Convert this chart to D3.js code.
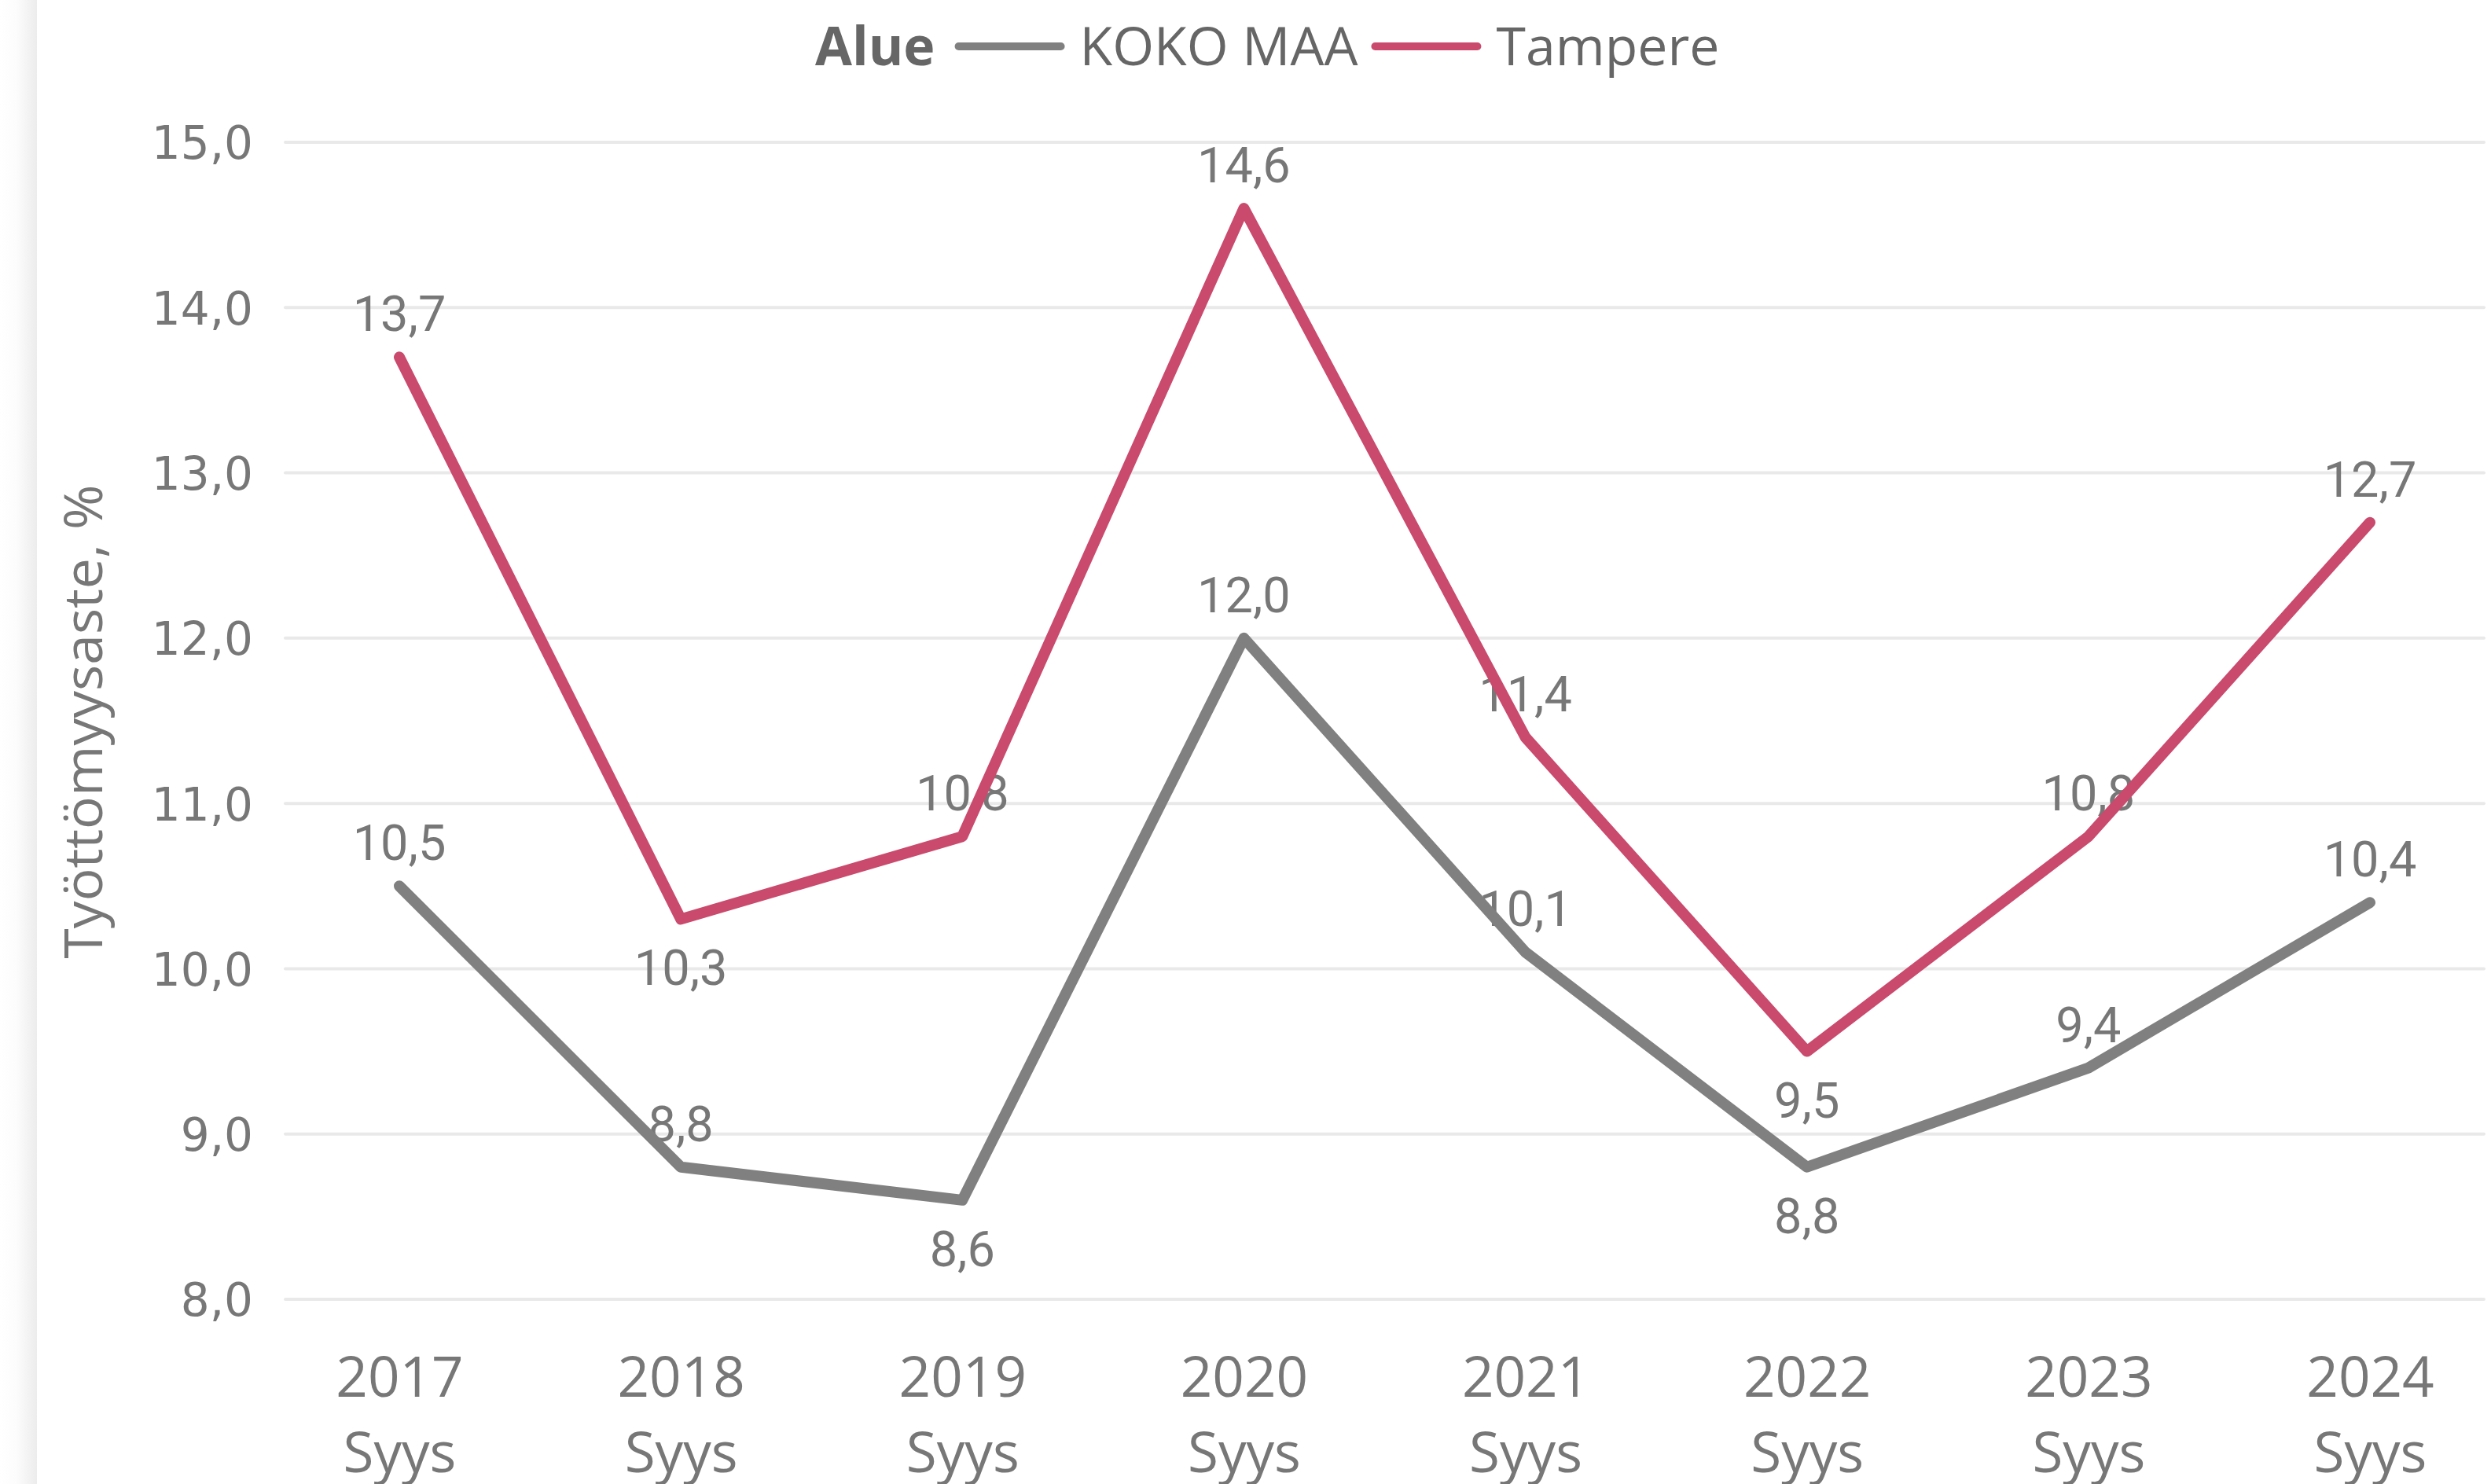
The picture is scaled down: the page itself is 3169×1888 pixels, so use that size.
<!DOCTYPE html>
<html>
<head>
<meta charset="utf-8">
<script src="https://cdn.jsdelivr.net/npm/d3@7"></script>
<style>
  html, body { margin: 0; padding: 0; background: #fff; }
  svg { display: block; }
</style>
</head>
<body>
<svg id="chart" width="3169" height="1888"></svg>
<script>
// data
const years = ['2017', '2018', '2019', '2020', '2021', '2022', '2023', '2024'];
const monthLabel = 'Syys';
const kokoMaa = [10.5, 8.8, 8.6, 12.0, 10.1, 8.8, 9.4, 10.4];
const tampere = [13.7, 10.3, 10.8, 14.6, 11.4, 9.5, 10.8, 12.7];
const yTicks = [8, 9, 10, 11, 12, 13, 14, 15];
const seriesNames = ['KOKO MAA', 'Tampere'];

const series = [
  { name: seriesNames[0], values: kokoMaa, color: '#808080' },
  { name: seriesNames[1], values: tampere, color: '#CA4A6D' }
];

const width = 3169, height = 1888;
const textColor = '#777777';
const fi = d3.formatLocale({ decimal: ',', thousands: ' ', grouping: [3], currency: ['', '€'] });
const fmt = fi.format('.1f');

const svg = d3.select('#chart');

// panel shadow on the left edge
const defs = svg.append('defs');
const grad = defs.append('linearGradient').attr('id', 'shadow')
  .attr('x1', 0).attr('x2', 1).attr('y1', 0).attr('y2', 0);
grad.append('stop').attr('offset', 0).attr('stop-color', '#ffffff');
grad.append('stop').attr('offset', 0.45).attr('stop-color', '#fcfcfc');
grad.append('stop').attr('offset', 1).attr('stop-color', '#ececec');
svg.append('rect').attr('x', 0).attr('y', 0).attr('width', 47).attr('height', height)
  .attr('fill', 'url(#shadow)');

const x = d3.scalePoint().domain(years).range([508, 3015]);
const y = d3.scaleLinear().domain([8, 15]).range([1653, 181]);

// gridlines + y tick labels
const yAxis = d3.axisLeft(y).tickValues(yTicks).tickFormat(fmt).tickSize(0).tickPadding(0);
const yG = svg.append('g').attr('transform', 'translate(322,0)').call(yAxis);
yG.select('.domain').remove();
yG.selectAll('text')
  .attr('fill', textColor)
  .attr('font-family', '"DejaVu Sans", sans-serif')
  .attr('font-size', 58)
  .attr('dy', '0.36em');

svg.append('g').selectAll('line').data(yTicks).join('line')
  .attr('x1', 363).attr('x2', 3160)
  .attr('y1', d => y(d)).attr('y2', d => y(d))
  .attr('stroke', '#e9e9e9').attr('stroke-width', 4).attr('stroke-linecap', 'round');

// x axis labels
const xAxis = d3.axisBottom(x).tickSize(0).tickPadding(0);
const xG = svg.append('g').attr('transform', 'translate(0,1777)').call(xAxis);
xG.select('.domain').remove();
xG.selectAll('text').remove();
const xTick = xG.selectAll('.tick').append('text')
  .attr('fill', textColor)
  .attr('font-family', '"Segoe UI", "Open Sans", sans-serif')
  .attr('font-size', 71)
  .attr('text-anchor', 'middle');
xTick.append('tspan').attr('x', 0).attr('y', 0).text(d => d);
xTick.append('tspan').attr('x', 0).attr('y', 96).text(monthLabel);

// y axis title
svg.append('text')
  .attr('transform', 'translate(130,918) rotate(-90)')
  .attr('text-anchor', 'middle')
  .attr('fill', textColor)
  .attr('font-family', '"Segoe UI", "Open Sans", sans-serif')
  .attr('font-size', 68)
  .attr('textLength', 603)
  .attr('lengthAdjust', 'spacingAndGlyphs')
  .text('Työttömyysaste, %');

// data labels (below the lines, as in the original)
const isLow = (vals, i) =>
  i > 0 && i < vals.length - 1 && vals[i] < vals[i - 1] && vals[i] < vals[i + 1];

series.forEach(s => {
  svg.append('g').selectAll('text').data(s.values).join('text')
    .attr('x', (d, i) => x(years[i]))
    .attr('y', (d, i) => isLow(s.values, i) ? y(d) + 84 : y(d) - 33)
    .attr('text-anchor', 'middle')
    .attr('fill', textColor)
    .attr('font-family', 'Roboto, sans-serif')
    .attr('font-size', 63)
    .text(d => fmt(d));
});

// lines
const line = d3.line().x((d, i) => x(years[i])).y(d => y(d));
series.forEach(s => {
  svg.append('path')
    .datum(s.values)
    .attr('d', line)
    .attr('fill', 'none')
    .attr('stroke', s.color)
    .attr('stroke-width', 14)
    .attr('stroke-linecap', 'round')
    .attr('stroke-linejoin', 'round');
});

// legend
const legend = svg.append('g').attr('transform', 'translate(1037,83)');
const legFont = '"Segoe UI", "Open Sans", sans-serif';
const title = legend.append('text')
  .attr('x', 0).attr('y', 0)
  .attr('fill', '#666666')
  .attr('font-family', legFont)
  .attr('font-size', 68)
  .attr('font-weight', 'bold')
  .text('Alue');
let cx = title.node().getComputedTextLength() + 30;
series.forEach(s => {
  legend.append('line')
    .attr('x1', cx).attr('x2', cx + 130)
    .attr('y1', -24).attr('y2', -24)
    .attr('stroke', s.color).attr('stroke-width', 10).attr('stroke-linecap', 'round');
  cx += 130 + 24;
  const t = legend.append('text')
    .attr('x', cx).attr('y', 0)
    .attr('fill', '#666666')
    .attr('font-family', legFont)
    .attr('font-size', 68)
    .text(s.name);
  cx += t.node().getComputedTextLength() + 22;
});
</script>
</body>
</html>
